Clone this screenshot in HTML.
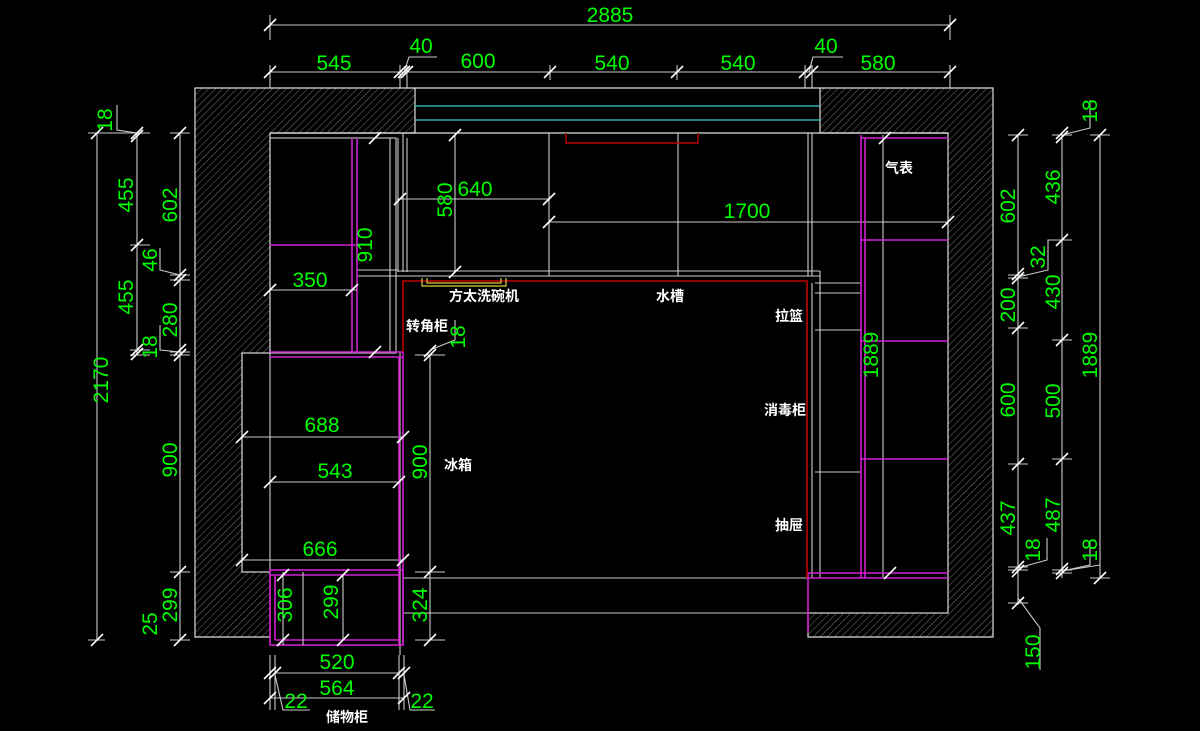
<!DOCTYPE html>
<html><head><meta charset="utf-8"><style>
html,body{margin:0;padding:0;background:#000;}
svg{display:block}
.g{fill:#00ff00;font-family:"Liberation Sans",sans-serif;font-size:21px;text-anchor:middle}
.w{fill:#fff;font-family:"Liberation Sans","Noto Sans CJK SC",sans-serif;font-size:14px;font-weight:bold}
</style></head><body>
<svg width="1200" height="731" viewBox="0 0 1200 731" xmlns="http://www.w3.org/2000/svg">
<defs>
<pattern id="h" width="5" height="5" patternUnits="userSpaceOnUse" patternTransform="rotate(45)">
<rect width="5" height="5" fill="#000"/><line x1="0" y1="0" x2="0" y2="5" stroke="#777" stroke-width="1"/>
</pattern>
<path id="t" d="M-6,6 L6,-6" stroke="#fff" stroke-width="1.6"/>
</defs>
<rect width="1200" height="731" fill="#000"/>

<path d="M195,88 H415 V133 H270 V353 H242 V572 H270 V637 H195 Z" fill="url(#h)" stroke="#ddd" stroke-width="1.2"/>
<path d="M820,88 H993 V637 H808 V613 H948 V133 H820 Z" fill="url(#h)" stroke="#ddd" stroke-width="1.2"/>
<g stroke="#ddd" stroke-width="1.2" fill="none">
<line x1="415" y1="88" x2="820" y2="88"/><line x1="415" y1="133" x2="948" y2="133"/>
<line x1="270" y1="133" x2="415" y2="133"/>
</g>
<line x1="415" y1="106" x2="820" y2="106" stroke="#2fd0d0" stroke-width="1.3"/>
<line x1="415" y1="120" x2="820" y2="120" stroke="#2fd0d0" stroke-width="1.3"/>

<g stroke="#ccc" stroke-width="1.1" fill="none">
<rect x="270" y="138" width="126" height="215"/>
<line x1="390" y1="138" x2="390" y2="353"/>
<line x1="398" y1="138" x2="398" y2="272"/>
<line x1="403" y1="133" x2="403" y2="272"/>
<line x1="407" y1="138" x2="407" y2="272"/>
<line x1="549" y1="133" x2="549" y2="276"/>
<line x1="678" y1="133" x2="678" y2="276"/>
<line x1="808" y1="133" x2="808" y2="276"/>
<line x1="812" y1="133" x2="812" y2="276"/>
<line x1="455" y1="135" x2="455" y2="272"/>
<line x1="357" y1="276" x2="820" y2="276"/>
<line x1="357" y1="270" x2="398" y2="270"/>
<line x1="398" y1="271" x2="820" y2="271"/>
<line x1="820" y1="271" x2="820" y2="578"/>
<line x1="812" y1="283" x2="812" y2="578"/>
<line x1="815" y1="283" x2="861" y2="283"/>
<line x1="815" y1="293" x2="861" y2="293"/>
<line x1="815" y1="330" x2="861" y2="330"/>
<line x1="815" y1="472" x2="861" y2="472"/>
<line x1="883" y1="135" x2="883" y2="578"/>
<line x1="397" y1="199" x2="549" y2="199"/>
<line x1="549" y1="222" x2="948" y2="222"/>
<line x1="242" y1="353" x2="270" y2="353"/>
<line x1="242" y1="437" x2="403" y2="437"/>
<line x1="270" y1="482" x2="399" y2="482"/>
<line x1="242" y1="560" x2="403" y2="560"/>
<line x1="270" y1="353" x2="270" y2="575"/>
<line x1="430" y1="355" x2="430" y2="640"/>
<line x1="403" y1="578" x2="808" y2="578"/>
<line x1="403" y1="613" x2="948" y2="613"/>
<line x1="242" y1="572" x2="270" y2="572"/>
<line x1="343" y1="575" x2="343" y2="640"/>
<line x1="400" y1="352" x2="400" y2="655"/>
</g>

<g stroke="#d020d0" stroke-width="1.6" fill="none">
<line x1="352" y1="138" x2="352" y2="353"/><line x1="357" y1="138" x2="357" y2="353"/>
<line x1="270" y1="245" x2="357" y2="245"/>
<line x1="270" y1="352" x2="403" y2="352"/><line x1="270" y1="357" x2="403" y2="357"/>
<line x1="399" y1="357" x2="399" y2="645"/><line x1="403" y1="352" x2="403" y2="645"/>
<rect x="270" y="570" width="133" height="75"/>
<line x1="275" y1="575" x2="275" y2="640"/><line x1="270" y1="575" x2="399" y2="575"/>
<line x1="275" y1="640" x2="399" y2="640"/>
<line x1="861" y1="135" x2="861" y2="578"/><line x1="865" y1="138" x2="865" y2="578"/>
<line x1="861" y1="138" x2="948" y2="138"/>
<line x1="861" y1="240" x2="948" y2="240"/>
<line x1="861" y1="341" x2="948" y2="341"/>
<line x1="861" y1="459" x2="948" y2="459"/>
<line x1="808" y1="573" x2="948" y2="573"/><line x1="808" y1="578" x2="948" y2="578"/>
<line x1="808" y1="573" x2="808" y2="633"/>
</g>
<path d="M403,352 V281 H807 V578" stroke="#c00000" stroke-width="1.6" fill="none"/>
<path d="M566,133 V143 H698 V133" stroke="#c00000" stroke-width="1.4" fill="none"/>
<path d="M422,278 V286 H506 V278 M427,278 V283 H501 V278" stroke="#d8d040" stroke-width="1.2" fill="none"/>

<g stroke="#ccc" stroke-width="1.1" fill="none">
<line x1="270" y1="25" x2="950" y2="25"/>
<line x1="270" y1="15" x2="270" y2="40"/><line x1="950" y1="15" x2="950" y2="40"/>
<line x1="270" y1="72" x2="950" y2="72"/>
<line x1="270" y1="65" x2="270" y2="88"/><line x1="400" y1="65" x2="400" y2="88"/><line x1="407" y1="65" x2="407" y2="88"/>
<line x1="550" y1="65" x2="550" y2="80"/><line x1="677" y1="65" x2="677" y2="80"/>
<line x1="805" y1="65" x2="805" y2="88"/><line x1="812" y1="65" x2="812" y2="88"/><line x1="950" y1="65" x2="950" y2="88"/>
<path d="M404,72 L409,57 H437"/><path d="M809,72 L813,57 H843"/>
<line x1="97" y1="133" x2="97" y2="640"/>
<line x1="137" y1="133" x2="137" y2="355"/>
<line x1="180" y1="133" x2="180" y2="640"/>
<line x1="88" y1="133" x2="140" y2="133"/><line x1="130" y1="133" x2="150" y2="133"/>
<line x1="170" y1="133" x2="190" y2="133"/><line x1="170" y1="275" x2="190" y2="275"/><line x1="170" y1="280" x2="190" y2="280"/>
<line x1="130" y1="245" x2="150" y2="245"/><line x1="130" y1="350" x2="150" y2="350"/><line x1="130" y1="355" x2="150" y2="355"/>
<line x1="170" y1="352" x2="190" y2="352"/><line x1="170" y1="355" x2="190" y2="355"/>
<line x1="170" y1="572" x2="190" y2="572"/><line x1="170" y1="640" x2="190" y2="640"/><line x1="88" y1="640" x2="105" y2="640"/>
<path d="M137,133 L117,130 V105"/><path d="M180,275 L160,270 V248"/><path d="M180,352 L160,350 V325"/>
<line x1="1018" y1="135" x2="1018" y2="605"/>
<line x1="1062" y1="135" x2="1062" y2="578"/>
<line x1="1100" y1="135" x2="1100" y2="578"/>
<line x1="1008" y1="135" x2="1028" y2="135"/><line x1="1008" y1="275" x2="1028" y2="275"/><line x1="1008" y1="278" x2="1028" y2="278"/>
<line x1="1008" y1="328" x2="1028" y2="328"/><line x1="1008" y1="464" x2="1028" y2="464"/><line x1="1008" y1="567" x2="1028" y2="567"/><line x1="1008" y1="570" x2="1028" y2="570"/><line x1="1008" y1="603" x2="1028" y2="603"/>
<line x1="1052" y1="135" x2="1072" y2="135"/><line x1="1052" y1="240" x2="1072" y2="240"/><line x1="1052" y1="340" x2="1072" y2="340"/><line x1="1052" y1="459" x2="1072" y2="459"/><line x1="1052" y1="570" x2="1072" y2="570"/><line x1="1052" y1="573" x2="1072" y2="573"/>
<line x1="1090" y1="135" x2="1110" y2="135"/><line x1="1090" y1="578" x2="1110" y2="578"/>
<path d="M1018,277 L1048,270 V240 H1062"/><path d="M1062,135 L1090,128 V100"/>
<path d="M1018,568 L1047,560 V538"/><path d="M1062,571 L1100,565"/><path d="M1062,571 L1090,565 V540"/>
<path d="M1018,598 L1040,628 V670"/>
<line x1="270" y1="290" x2="357" y2="290"/>
<line x1="415" y1="355" x2="445" y2="355"/><line x1="415" y1="572" x2="445" y2="572"/><line x1="415" y1="640" x2="445" y2="640"/>
<path d="M430,350 L455,340 V320"/>
<line x1="283" y1="572" x2="283" y2="645"/><line x1="303" y1="572" x2="303" y2="645"/>
<line x1="270" y1="655" x2="270" y2="710"/><line x1="275" y1="655" x2="275" y2="710"/>
<line x1="399" y1="655" x2="399" y2="710"/><line x1="404" y1="655" x2="404" y2="710"/>
<line x1="275" y1="673" x2="399" y2="673"/>
<line x1="270" y1="698" x2="404" y2="698"/>
<path d="M275,675 L283,710 H310"/><path d="M404,675 L410,710 H435"/>
</g>
<g>
<use href="#t" x="270" y="25"/><use href="#t" x="950" y="25"/>
<use href="#t" x="270" y="72"/><use href="#t" x="400" y="72"/><use href="#t" x="404" y="72"/><use href="#t" x="407" y="72"/><use href="#t" x="550" y="72"/><use href="#t" x="677" y="72"/><use href="#t" x="805" y="72"/><use href="#t" x="812" y="72"/><use href="#t" x="950" y="72"/>
<use href="#t" x="97" y="133"/><use href="#t" x="97" y="640"/>
<use href="#t" x="137" y="133"/><use href="#t" x="137" y="136"/><use href="#t" x="137" y="245"/><use href="#t" x="137" y="350"/><use href="#t" x="137" y="354"/>
<use href="#t" x="180" y="133"/><use href="#t" x="180" y="275"/><use href="#t" x="180" y="280"/><use href="#t" x="180" y="350"/><use href="#t" x="180" y="355"/><use href="#t" x="180" y="572"/><use href="#t" x="180" y="640"/>
<use href="#t" x="1018" y="135"/><use href="#t" x="1018" y="274"/><use href="#t" x="1018" y="278"/><use href="#t" x="1018" y="328"/><use href="#t" x="1018" y="464"/><use href="#t" x="1018" y="567"/><use href="#t" x="1018" y="571"/><use href="#t" x="1018" y="603"/>
<use href="#t" x="1062" y="133"/><use href="#t" x="1062" y="137"/><use href="#t" x="1062" y="240"/><use href="#t" x="1062" y="340"/><use href="#t" x="1062" y="459"/><use href="#t" x="1062" y="569"/><use href="#t" x="1062" y="573"/>
<use href="#t" x="1100" y="135"/><use href="#t" x="1100" y="578"/>
<use href="#t" x="455" y="135"/><use href="#t" x="455" y="272"/><use href="#t" x="400" y="199"/><use href="#t" x="549" y="199"/><use href="#t" x="549" y="222"/><use href="#t" x="948" y="222"/>
<use href="#t" x="270" y="290"/><use href="#t" x="352" y="290"/><use href="#t" x="375" y="138"/><use href="#t" x="375" y="352"/>
<use href="#t" x="242" y="437"/><use href="#t" x="403" y="437"/><use href="#t" x="270" y="482"/><use href="#t" x="399" y="482"/><use href="#t" x="242" y="560"/><use href="#t" x="403" y="560"/>
<use href="#t" x="430" y="355"/><use href="#t" x="430" y="351"/><use href="#t" x="430" y="572"/><use href="#t" x="430" y="640"/>
<use href="#t" x="283" y="575"/><use href="#t" x="283" y="640"/><use href="#t" x="343" y="575"/><use href="#t" x="343" y="640"/>
<use href="#t" x="270" y="673"/><use href="#t" x="275" y="673"/><use href="#t" x="399" y="673"/><use href="#t" x="404" y="673"/><use href="#t" x="270" y="698"/><use href="#t" x="404" y="698"/>
<use href="#t" x="885" y="138"/><use href="#t" x="890" y="573"/>
</g>

<g class="g">
<text x="610" y="22">2885</text>
<text x="334" y="70">545</text><text x="421" y="53">40</text><text x="478" y="68">600</text>
<text x="612" y="70">540</text><text x="738" y="70">540</text><text x="826" y="53">40</text><text x="878" y="70">580</text>
<text x="475" y="196">640</text><text x="747" y="218">1700</text><text x="310" y="287">350</text>
<text x="322" y="432">688</text><text x="335" y="478">543</text><text x="320" y="556">666</text>
<text x="337" y="669">520</text><text x="337" y="695">564</text>
<text x="296" y="708">22</text><text x="422" y="708">22</text>
<text transform="translate(108,380) rotate(-90)">2170</text>
<text transform="translate(133,195) rotate(-90)">455</text>
<text transform="translate(133,297) rotate(-90)">455</text>
<text transform="translate(112,120) rotate(-90)">18</text>
<text transform="translate(157,260) rotate(-90)">46</text>
<text transform="translate(157,347) rotate(-90)">18</text>
<text transform="translate(177,205) rotate(-90)">602</text>
<text transform="translate(177,320) rotate(-90)">280</text>
<text transform="translate(177,460) rotate(-90)">900</text>
<text transform="translate(177,605) rotate(-90)">299</text>
<text transform="translate(157,624) rotate(-90)">25</text>
<text transform="translate(452,200) rotate(-90)">580</text>
<text transform="translate(372,245) rotate(-90)">910</text>
<text transform="translate(465,337) rotate(-90)">18</text>
<text transform="translate(427,462) rotate(-90)">900</text>
<text transform="translate(427,605) rotate(-90)">324</text>
<text transform="translate(292,605) rotate(-90)">306</text>
<text transform="translate(338,602) rotate(-90)">299</text>
<text transform="translate(878,355) rotate(-90)">1889</text>
<text transform="translate(1015,206) rotate(-90)">602</text>
<text transform="translate(1015,305) rotate(-90)">200</text>
<text transform="translate(1015,400) rotate(-90)">600</text>
<text transform="translate(1015,518) rotate(-90)">437</text>
<text transform="translate(1040,550) rotate(-90)">18</text>
<text transform="translate(1040,652) rotate(-90)">150</text>
<text transform="translate(1060,187) rotate(-90)">436</text>
<text transform="translate(1045,257) rotate(-90)">32</text>
<text transform="translate(1060,292) rotate(-90)">430</text>
<text transform="translate(1060,401) rotate(-90)">500</text>
<text transform="translate(1060,515) rotate(-90)">487</text>
<text transform="translate(1097,111) rotate(-90)">18</text>
<text transform="translate(1097,355) rotate(-90)">1889</text>
<text transform="translate(1097,550) rotate(-90)">18</text>
</g>

<g class="w">
<text x="449" y="301">方太洗碗机</text>
<text x="656" y="301">水槽</text>
<text x="406" y="331">转角柜</text>
<text x="775" y="321">拉篮</text>
<text x="764" y="415">消毒柜</text>
<text x="444" y="470">冰箱</text>
<text x="775" y="530">抽屉</text>
<text x="885" y="173">气表</text>
<text x="326" y="722">储物柜</text>
</g>
</svg>
</body></html>
